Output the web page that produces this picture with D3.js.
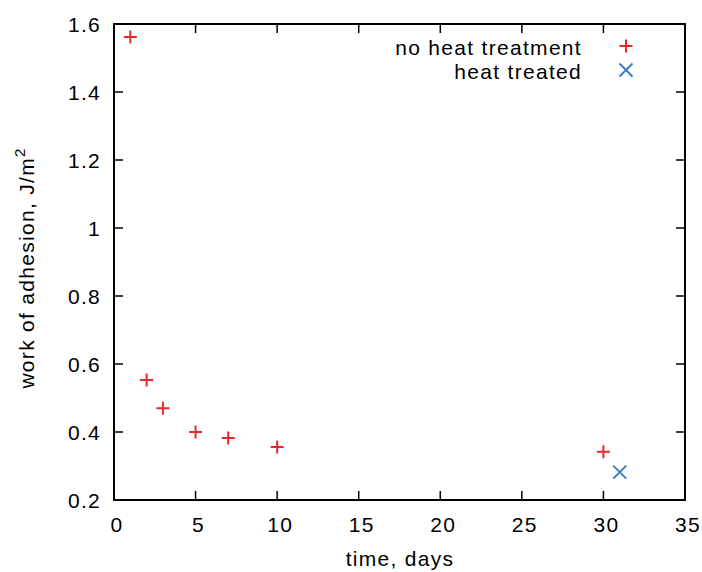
<!DOCTYPE html>
<html>
<head>
<meta charset="utf-8">
<script src="https://cdn.jsdelivr.net/npm/d3@7"></script>
<style>
  body { margin: 0; background: #fff; }
  text { font-family: "Liberation Sans", Arial, sans-serif; fill: #000; letter-spacing: 1.3px; }
</style>
</head>
<body>
<div id="chart"></div>
<script>
// data
var noHeatDays = [1, 2, 3, 5, 7, 10, 30];
var noHeatWork = [1.562, 0.553, 0.47, 0.4, 0.382, 0.356, 0.342];
var heatDays = [31];
var heatWork = [0.282];
var xTicks = [0, 5, 10, 15, 20, 25, 30, 35];
var yTicks = [0.2, 0.4, 0.6, 0.8, 1, 1.2, 1.4, 1.6];

var W = 702, H = 572;
var margin = {left: 114, right: 17, top: 24, bottom: 72};
var tickLen = 9;
var fs = "21px";
var red = "#e8262b", blue = "#3b7dbf";

var svg = d3.select("#chart").append("svg")
    .attr("width", W)
    .attr("height", H);

var x = d3.scaleLinear().domain([0, 35]).range([margin.left, W - margin.right]);
var y = d3.scaleLinear().domain([0.2, 1.6]).range([H - margin.bottom, margin.top]);

// ticks (gnuplot style: inward, mirrored)
var g = svg.append("g").attr("stroke", "#000").attr("stroke-width", 1.5);
xTicks.forEach(function(t) {
    g.append("line").attr("x1", x(t)).attr("x2", x(t))
        .attr("y1", y(0.2)).attr("y2", y(0.2) - tickLen);
    g.append("line").attr("x1", x(t)).attr("x2", x(t))
        .attr("y1", y(1.6)).attr("y2", y(1.6) + tickLen);
});
yTicks.forEach(function(t) {
    g.append("line").attr("y1", y(t)).attr("y2", y(t))
        .attr("x1", x(0)).attr("x2", x(0) + tickLen);
    g.append("line").attr("y1", y(t)).attr("y2", y(t))
        .attr("x1", x(35)).attr("x2", x(35) - tickLen);
});

svg.append("rect")
    .attr("x", x(0)).attr("y", y(1.6))
    .attr("width", x(35) - x(0)).attr("height", y(0.2) - y(1.6))
    .attr("fill", "none").attr("stroke", "#000").attr("stroke-width", 2);

// tick labels
svg.selectAll(".xl").data(xTicks).enter().append("text")
    .attr("x", function(d) { return x(d) + 3; })
    .attr("y", y(0.2) + 32)
    .attr("text-anchor", "middle")
    .style("font-size", fs)
    .text(function(d) { return d; });

svg.selectAll(".yl").data(yTicks).enter().append("text")
    .attr("x", x(0) - 13)
    .attr("y", function(d) { return y(d) + 8; })
    .attr("text-anchor", "end")
    .style("font-size", fs)
    .text(function(d) { return d; });

// axis titles
svg.append("text")
    .attr("x", 400)
    .attr("y", 566)
    .attr("text-anchor", "middle")
    .style("font-size", fs)
    .text("time, days");

var yl = svg.append("text")
    .attr("transform", "translate(34,268) rotate(-90)")
    .attr("text-anchor", "middle")
    .style("font-size", fs);
yl.append("tspan").text("work of adhesion, J/m");
yl.append("tspan").attr("dy", -9).style("font-size", "15px").text("2");

// markers
var s = 6.5;
function plus(sel, cx, cy, col) {
    sel.append("path")
        .attr("d", "M" + (cx - s) + "," + cy + "H" + (cx + s) + "M" + cx + "," + (cy - s) + "V" + (cy + s))
        .attr("stroke", col).attr("stroke-width", 2).attr("fill", "none");
}
function cross(sel, cx, cy, col) {
    sel.append("path")
        .attr("d", "M" + (cx - s) + "," + (cy - s) + "L" + (cx + s) + "," + (cy + s) +
                   "M" + (cx - s) + "," + (cy + s) + "L" + (cx + s) + "," + (cy - s))
        .attr("stroke", col).attr("stroke-width", 2).attr("fill", "none");
}

var pts = svg.append("g");
noHeatDays.forEach(function(d, i) { plus(pts, x(d), y(noHeatWork[i]), red); });
heatDays.forEach(function(d, i) { cross(pts, x(d), y(heatWork[i]), blue); });

// legend
var leg = svg.append("g");
leg.append("text").attr("x", 582).attr("y", 55).attr("text-anchor", "end")
    .style("font-size", fs).text("no heat treatment");
leg.append("text").attr("x", 582).attr("y", 79).attr("text-anchor", "end")
    .style("font-size", fs).text("heat treated");
plus(leg, 626, 46, red);
cross(leg, 626, 70, blue);
</script>
</body>
</html>
